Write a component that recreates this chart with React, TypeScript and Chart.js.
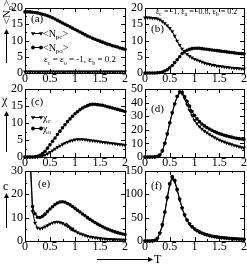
import React, { useEffect, useRef } from 'react';
import { Chart, registerables } from 'chart.js';

Chart.register(...registerables);

const FONT = '"Liberation Serif", "Times New Roman", serif';
const W = 247;
const H = 264;

// ---- data ----
const temps = [0, 0.05, 0.1, 0.15, 0.2, 0.25, 0.3, 0.35, 0.4, 0.45, 0.5, 0.55, 0.6, 0.65, 0.7, 0.75, 0.8, 0.85, 0.9, 0.95, 1,
  1.05, 1.1, 1.15, 1.2, 1.25, 1.3, 1.35, 1.4, 1.45, 1.5, 1.55, 1.6, 1.65, 1.7, 1.75, 1.8, 1.85, 1.9, 1.95, 2];
const tempsE = [0.1, 0.15, 0.2, 0.25, 0.3, 0.35, 0.4, 0.45, 0.5, 0.55, 0.6, 0.65, 0.7, 0.75, 0.8, 0.85, 0.9, 0.95, 1,
  1.05, 1.1, 1.15, 1.2, 1.25, 1.3, 1.35, 1.4, 1.45, 1.5, 1.55, 1.6, 1.65, 1.7, 1.75, 1.8, 1.85, 1.9, 1.95, 2];

const xTicks = [0, 0.5, 1, 1.5, 2];
const xTickLabels = ['0', '0.5', '1', '1.5', '2'];
const yTicks20 = [0, 5, 10, 15, 20];
const yTicks50 = [0, 10, 20, 30, 40, 50];
const yTicks30 = [0, 10, 20, 30];
const yTicks150 = [0, 50, 100, 150];

// (a)
const npcA = [0.4, 0.4, 0.4, 0.4, 0.4, 0.4, 0.4, 0.4, 0.4, 0.4, 0.4, 0.4, 0.4, 0.4, 0.4, 0.4, 0.4, 0.4, 0.4, 0.4, 0.4,
  0.4, 0.4, 0.4, 0.4, 0.4, 0.4, 0.4, 0.4, 0.4, 0.4, 0.4, 0.4, 0.4, 0.4, 0.4, 0.4, 0.4, 0.4, 0.4, 0.4];
const npoA = [18.8, 18.8, 18.8, 18.7, 18.6, 18.5, 18.3, 18.1, 17.9, 17.6, 17.3, 17.0, 16.6, 16.2, 15.8, 15.4, 15.0, 14.6, 14.2, 13.8, 13.4,
  13.0, 12.6, 12.2, 11.8, 11.4, 11.1, 10.7, 10.4, 10.1, 9.8, 9.5, 9.2, 8.9, 8.7, 8.4, 8.2, 8.0, 7.7, 7.5, 7.3];
// (b)
const npcB = [17.0, 17.0, 17.0, 16.9, 16.9, 16.7, 16.4, 15.9, 15.3, 14.6, 13.8, 12.8, 11.4, 9.9, 8.6, 7.4, 6.5, 5.8, 5.2, 4.7, 4.3,
  4.0, 3.7, 3.4, 3.1, 2.9, 2.7, 2.5, 2.4, 2.2, 2.1, 2.0, 1.9, 1.8, 1.7, 1.6, 1.5, 1.5, 1.4, 1.3, 1.3];
const npoB = [0, 0, 0, 0, 0, 0.05, 0.15, 0.3, 0.6, 1.0, 1.6, 2.3, 3.2, 4.1, 5.0, 6.0, 6.6, 7.0, 7.3, 7.5, 7.6,
  7.6, 7.6, 7.5, 7.4, 7.3, 7.2, 7.1, 7.0, 6.9, 6.8, 6.7, 6.6, 6.5, 6.4, 6.3, 6.2, 6.1, 6.0, 5.95, 5.9];
// (c)
const chiC = [0, 0, 0, 0, 0, 0.05, 0.15, 0.35, 0.6, 1.0, 1.4, 1.9, 2.4, 2.9, 3.3, 3.7, 4.1, 4.4, 4.7, 4.9, 5.1,
  5.2, 5.2, 5.2, 5.1, 5.0, 4.9, 4.8, 4.7, 4.6, 4.5, 4.4, 4.3, 4.2, 4.1, 4.0, 3.9, 3.8, 3.7, 3.6, 3.5];
const chiO = [0, 0, 0, 0, 0.05, 0.2, 0.5, 1.0, 1.7, 2.6, 3.6, 4.6, 5.6, 6.6, 7.6, 8.6, 9.5, 10.4, 11.2, 12.0, 12.7,
  13.3, 13.9, 14.4, 14.8, 15.1, 15.4, 15.5, 15.5, 15.4, 15.3, 15.2, 15.0, 14.8, 14.6, 14.4, 14.2, 14.0, 13.8, 13.6, 13.4];
// (d)
const chiCD = [0, 0, 0, 0, 0.1, 0.5, 1.5, 4.5, 10, 17, 25, 32.5, 39, 44.5, 47.5, 46.5, 43, 38.5, 34.5, 30.5, 27,
  24.5, 22.4, 20.6, 19.2, 17.9, 16.7, 15.6, 14.5, 13.5, 12.6, 11.8, 11.1, 10.4, 9.8, 9.2, 8.6, 8.1, 7.6, 7.1, 6.6];
const chiOD = [0, 0, 0, 0, 0.1, 0.5, 1.5, 4.5, 10, 17, 25, 32.5, 39, 44.5, 48, 47.5, 44.5, 41, 37.5, 33.5, 30.5,
  28, 26, 24.3, 22.9, 21.7, 20.6, 19.6, 18.7, 17.9, 17.2, 16.6, 16.0, 15.5, 15.0, 14.6, 14.2, 13.8, 13.5, 13.2, 12.9];
// (e)
const cC = [35, 12.7, 7.8, 5.6, 5.3, 5.6, 6.1, 6.7, 7.3, 7.8, 8.1, 8.2, 8.0, 7.6, 7.0, 6.3, 5.6, 4.9, 4.3,
  3.7, 3.2, 2.8, 2.4, 2.1, 1.8, 1.6, 1.4, 1.3, 1.1, 1.0, 0.9, 0.8, 0.8, 0.7, 0.7, 0.6, 0.6, 0.5, 0.5];
const cO = [40, 14.8, 11.7, 10.2, 10.1, 10.6, 11.5, 12.6, 13.7, 14.7, 15.6, 16.3, 16.7, 16.8, 16.6, 16.1, 15.5, 14.8, 14.0,
  13.2, 12.4, 11.6, 10.8, 10.0, 9.3, 8.6, 7.9, 7.3, 6.7, 6.1, 5.6, 5.1, 4.7, 4.3, 3.9, 3.6, 3.3, 3.0, 2.8];
// (f)
const cCF = [0, 0, 0, 0.2, 1.4, 5.5, 16, 33, 60, 91, 120, 134, 127, 108, 88, 70, 55, 44, 36, 30, 25.5,
  22, 19, 16.6, 14.7, 13, 11.6, 10.4, 9.4, 8.6, 7.8, 7.1, 6.5, 6.0, 5.5, 5.1, 4.7, 4.4, 4.1, 3.8, 3.6];
const cOF = [0, 0, 0, 0.2, 1.5, 6, 17, 35, 62, 94, 123, 138, 130, 111, 90, 71, 56, 45, 37, 31, 26,
  22.5, 19.5, 17, 15, 13.3, 11.9, 10.7, 9.7, 8.8, 8.0, 7.3, 6.7, 6.2, 5.7, 5.3, 4.9, 4.6, 4.3, 4.0, 3.8];

// ---- drawing helpers ----
type Part = [string, boolean?];

function drawRich(ctx: CanvasRenderingContext2D, parts: Part[], x: number, y: number, size: number, measureOnly = false) {
  let cx = x;
  for (const [t, sub] of parts) {
    const fs = sub ? Math.round(size * 0.7) : size;
    ctx.font = `${fs}px ${FONT}`;
    if (!measureOnly) ctx.fillText(t, cx, sub ? y + size * 0.28 : y);
    cx += ctx.measureText(t).width;
  }
  return cx - x;
}

function marker(ctx: CanvasRenderingContext2D, kind: string, x: number, y: number) {
  ctx.beginPath();
  if (kind === 'tri') {
    ctx.moveTo(x - 2.2, y - 1.3);
    ctx.lineTo(x + 2.2, y - 1.3);
    ctx.lineTo(x, y + 2.3);
    ctx.closePath();
  } else {
    ctx.arc(x, y, 1.9, 0, Math.PI * 2);
  }
  ctx.fill();
}

function legendRow(ctx: CanvasRenderingContext2D, kind: string, y: number, parts: Part[]) {
  ctx.beginPath();
  ctx.moveTo(33, y + 0.5);
  ctx.lineTo(41, y + 0.5);
  ctx.stroke();
  marker(ctx, kind, 33, y + 0.5);
  marker(ctx, kind, 41, y + 0.5);
  drawRich(ctx, parts, 43, y + 3.5, 10);
}

function arrow(ctx: CanvasRenderingContext2D, x1: number, y1: number, x2: number, y2: number, head = 5, hw = 2.5, lw = 1) {
  const a = Math.atan2(y2 - y1, x2 - x1);
  ctx.lineWidth = lw;
  ctx.beginPath();
  ctx.moveTo(x1, y1);
  ctx.lineTo(x2 - Math.cos(a) * head * 0.8, y2 - Math.sin(a) * head * 0.8);
  ctx.stroke();
  ctx.beginPath();
  ctx.moveTo(x2, y2);
  ctx.lineTo(x2 - Math.cos(a) * head - Math.sin(a) * hw, y2 - Math.sin(a) * head + Math.cos(a) * hw);
  ctx.lineTo(x2 - Math.cos(a) * head + Math.sin(a) * hw, y2 - Math.sin(a) * head - Math.cos(a) * hw);
  ctx.closePath();
  ctx.fill();
  ctx.lineWidth = 1;
}

function text(ctx: CanvasRenderingContext2D, s: string, x: number, y: number, size: number) {
  ctx.font = `${size}px ${FONT}`;
  ctx.fillText(s, x, y);
}

type Series = { xs: number[]; ys: number[]; marker: 'tri' | 'circ' };
type PanelCfg = {
  id: string;
  rect: [number, number, number, number];
  yTicks: number[];
  series: Series[];
  decor: (ctx: CanvasRenderingContext2D) => void;
};

const PANELS: PanelCfg[] = [
  {
    id: 'a', rect: [25, 4, 125, 73], yTicks: yTicks20,
    series: [{ xs: temps, ys: npoA, marker: 'circ' }, { xs: temps, ys: npcA, marker: 'tri' }],
    decor: (ctx) => {
      text(ctx, '(a)', 31, 22, 11);
      legendRow(ctx, 'tri', 33, [['<N'], ['pc', true], ['>']]);
      legendRow(ctx, 'circ', 47, [['<N'], ['po', true], ['>']]);
      drawRich(ctx, [['ε'], ['c', true], [' = ε'], ['o', true], [' = -1, ε'], ['b', true], [' = 0.2']], 44, 62, 9);
      // y title
      ctx.save();
      ctx.translate(10, 12);
      ctx.rotate(-Math.PI / 2);
      const parts: Part[] = [['<N'], ['p', true], ['>']];
      const w = drawRich(ctx, parts, 0, 0, 11, true);
      drawRich(ctx, parts, -w / 2, 0, 11);
      ctx.restore();
      arrow(ctx, 6.5, 63, 6.5, 29);
    },
  },
  {
    id: 'b', rect: [145, 4, 245, 73], yTicks: yTicks20,
    series: [{ xs: temps, ys: npcB, marker: 'tri' }, { xs: temps, ys: npoB, marker: 'circ' }],
    decor: (ctx) => {
      text(ctx, '(b)', 151, 32, 11);
      drawRich(ctx, [['ε'], ['c', true], [' = -1, ε'], ['a', true], [' = -0.8, ε'], ['b', true], [' = 0.2']], 156, 14, 8);
    },
  },
  {
    id: 'c', rect: [25, 89, 125, 157], yTicks: yTicks20,
    series: [{ xs: temps, ys: chiC, marker: 'tri' }, { xs: temps, ys: chiO, marker: 'circ' }],
    decor: (ctx) => {
      text(ctx, '(c)', 31, 105, 11);
      legendRow(ctx, 'tri', 117, [['χ'], ['c', true]]);
      legendRow(ctx, 'circ', 128, [['χ'], ['o', true]]);
      text(ctx, 'χ', 2, 104, 12);
      arrow(ctx, 6.5, 152, 6.5, 111);
    },
  },
  {
    id: 'd', rect: [145, 89, 245, 157], yTicks: yTicks50,
    series: [{ xs: temps, ys: chiCD, marker: 'tri' }, { xs: temps, ys: chiOD, marker: 'circ' }],
    decor: (ctx) => {
      text(ctx, '(d)', 151, 112, 11);
    },
  },
  {
    id: 'e', rect: [25, 171, 125, 241], yTicks: yTicks30,
    series: [{ xs: tempsE, ys: cC, marker: 'tri' }, { xs: tempsE, ys: cO, marker: 'circ' }],
    decor: (ctx) => {
      text(ctx, '(e)', 38, 187, 11);
      text(ctx, 'c', 3, 190, 12);
      arrow(ctx, 6.5, 228, 6.5, 193);
      arrow(ctx, 66, 223, 75, 232, 5, 2.5, 1.5);
      arrow(ctx, 97, 259.5, 153, 259.5);
      text(ctx, 'T', 154, 263, 12);
    },
  },
  {
    id: 'f', rect: [145, 171, 245, 241], yTicks: yTicks150,
    series: [{ xs: temps, ys: cCF, marker: 'tri' }, { xs: temps, ys: cOF, marker: 'circ' }],
    decor: (ctx) => {
      text(ctx, '(f)', 151, 189, 11);
    },
  },
];

function framePlugin(p: PanelCfg) {
  return {
    id: 'frame' + p.id,
    afterDatasetsDraw(chart: any) {
      const { ctx, chartArea } = chart;
      const { left, top, right, bottom } = chartArea;
      const xs = chart.scales.x;
      const ys = chart.scales.y;
      ctx.save();
      ctx.strokeStyle = '#000';
      ctx.fillStyle = '#000';
      ctx.lineWidth = 1;
      ctx.strokeRect(Math.round(left) + 0.5, Math.round(top) + 0.5, Math.round(right - left), Math.round(bottom - top));
      const tick = (vals: number[], len: number) => {
        for (const v of vals) {
          const py = Math.round(ys.getPixelForValue(v)) + 0.5;
          ctx.beginPath();
          ctx.moveTo(left, py); ctx.lineTo(left + len, py);
          ctx.moveTo(right, py); ctx.lineTo(right - len, py);
          ctx.stroke();
        }
      };
      const ytm = p.yTicks;
      tick(ytm, 4);
      const yMinor: number[] = [];
      for (let i = 0; i < ytm.length - 1; i++) yMinor.push((ytm[i] + ytm[i + 1]) / 2);
      tick(yMinor, 2);
      const xTick = (vals: number[], len: number) => {
        for (const v of vals) {
          const px = Math.round(xs.getPixelForValue(v)) + 0.5;
          ctx.beginPath();
          ctx.moveTo(px, bottom); ctx.lineTo(px, bottom - len);
          ctx.moveTo(px, top); ctx.lineTo(px, top + len);
          ctx.stroke();
        }
      };
      xTick(xTicks, 4);
      const xMinor: number[] = [];
      for (let i = 0; i < xTicks.length - 1; i++) xMinor.push((xTicks[i] + xTicks[i + 1]) / 2);
      xTick(xMinor, 2);
      ctx.restore();
    },
    afterDraw(chart: any) {
      const ctx = chart.ctx;
      ctx.save();
      ctx.fillStyle = '#000';
      ctx.strokeStyle = '#000';
      ctx.lineWidth = 1;
      ctx.textBaseline = 'alphabetic';
      ctx.textAlign = 'left';
      p.decor(ctx);
      ctx.restore();
    },
  };
}

function makeChart(canvas: HTMLCanvasElement, p: PanelCfg) {
  const [L, T, R, B] = p.rect;
  const tickFont = { family: FONT, size: 12, lineHeight: 1 };
  return new Chart(canvas, {
    type: 'line',
    data: {
      datasets: p.series.map((s) => ({
        data: s.xs.map((x, i) => ({ x, y: s.ys[i] })),
        borderColor: '#000',
        borderWidth: 1,
        pointStyle: s.marker === 'tri' ? 'triangle' : 'circle',
        pointRotation: s.marker === 'tri' ? 180 : 0,
        pointRadius: s.marker === 'tri' ? 2.3 : 1.8,
        pointBackgroundColor: '#000',
        pointBorderColor: '#000',
        pointBorderWidth: 0,
        tension: 0,
        fill: false,
        clip: { left: 4, right: 4, top: 0, bottom: 4 },
      })),
    },
    options: {
      animation: false,
      responsive: false,
      events: [],
      layout: { autoPadding: false, padding: { left: L - 20, top: T, right: W - R, bottom: H - B - 14 } },
      plugins: { legend: { display: false }, tooltip: { enabled: false } },
      scales: {
        x: {
          type: 'linear', min: 0, max: 2,
          afterFit: (s: any) => { s.height = 14; },
          afterBuildTicks: (s: any) => { s.ticks = xTicks.map((v) => ({ value: v })); },
          ticks: {
            font: tickFont, color: '#000', padding: 0, maxRotation: 0, autoSkip: false,
            callback: (v: any) => xTickLabels[xTicks.indexOf(Number(v))],
          },
          grid: { display: false, drawTicks: false },
          border: { display: false },
        },
        y: {
          type: 'linear', min: p.yTicks[0], max: p.yTicks[p.yTicks.length - 1],
          afterFit: (s: any) => { s.width = 20; },
          afterBuildTicks: (s: any) => { s.ticks = p.yTicks.map((v) => ({ value: v })); },
          ticks: { font: tickFont, color: '#000', padding: 2, autoSkip: false, callback: (v: any) => String(v) },
          grid: { display: false, drawTicks: false },
          border: { display: false },
        },
      },
    } as any,
    plugins: [framePlugin(p)],
  });
}

export default function App() {
  const refs = useRef<(HTMLCanvasElement | null)[]>([]);
  useEffect(() => {
    const charts = PANELS.map((p, i) => makeChart(refs.current[i] as HTMLCanvasElement, p));
    return () => charts.forEach((c) => c.destroy());
  }, []);
  return (
    <div style={{ position: 'fixed', left: 0, top: 0, width: W, height: H, background: '#fff' }}>
      {PANELS.map((p, i) => (
        <canvas
          key={p.id}
          ref={(el) => { refs.current[i] = el; }}
          width={W}
          height={H}
          style={{ position: 'absolute', left: 0, top: 0, width: W, height: H }}
        />
      ))}
    </div>
  );
}
